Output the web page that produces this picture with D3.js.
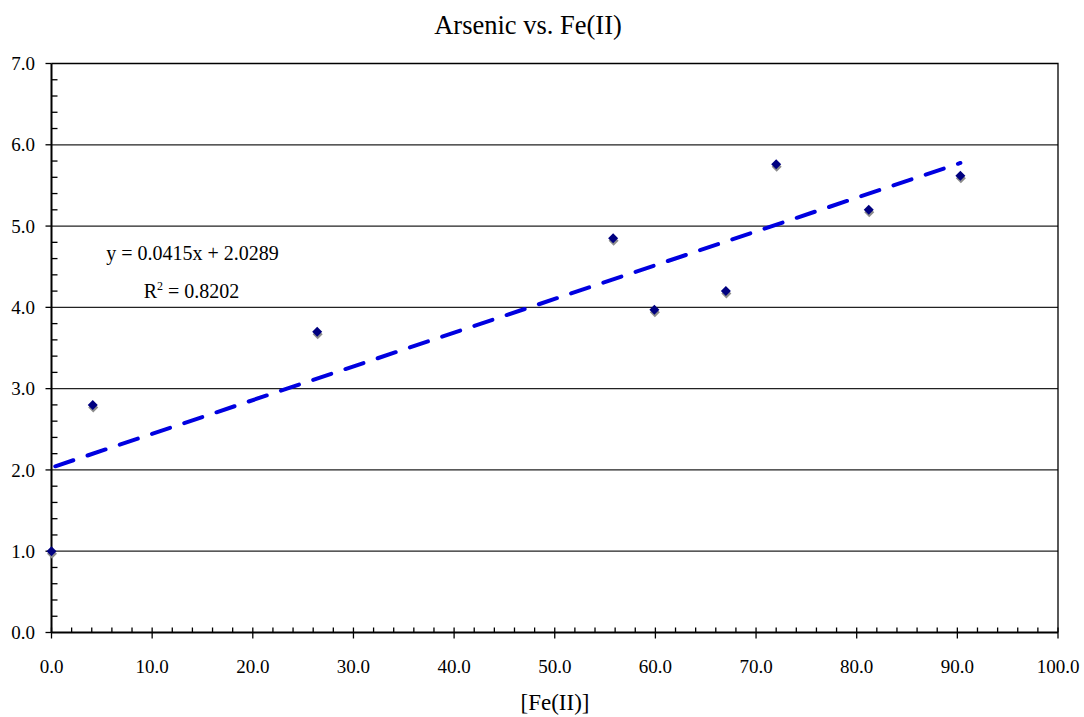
<!DOCTYPE html>
<html><head><meta charset="utf-8">
<script src="https://cdn.jsdelivr.net/npm/d3@7"></script>
<style>body{margin:0;background:#fff}svg{display:block}text{font-family:"Liberation Serif","Times New Roman",serif;fill:#000}</style>
</head><body>
<svg id="c" width="1084" height="717"></svg>
<script>
const feII = [0, 4.1, 26.4, 55.8, 59.9, 67.0, 72.0, 81.2, 90.3];
const arsenic = [1.0, 2.8, 3.7, 4.85, 3.97, 4.2, 5.76, 5.2, 5.62];
const xTicks = [0,10,20,30,40,50,60,70,80,90,100];
const yTicks = [0,1,2,3,4,5,6,7];
const slope = 0.0415, intercept = 2.0289, r2 = "0.8202";
const title = "Arsenic vs. Fe(II)", xTitle = "[Fe(II)]";

const svg = d3.select("#c");
const L=51.5, R=1058, T=63.5, B=632.5;
const x = d3.scaleLinear().domain([0,100]).range([L,R]);
const y = d3.scaleLinear().domain([0,7]).range([B,T]);

// gridlines
svg.append("g").selectAll("line").data(yTicks.filter(d=>d>0&&d<7)).join("line")
  .attr("x1",L).attr("x2",R).attr("y1",d=>y(d)).attr("y2",d=>y(d))
  .attr("stroke","#222").attr("stroke-width",1.2);
// border
svg.append("path").attr("d",`M${L},${T}H${R}V${B}`).attr("fill","none").attr("stroke","#000").attr("stroke-width",1.3);

// y axis
const yMinor = d3.range(0,7.001,0.2).map(v=>+v.toFixed(1));
const ya = svg.append("g");
ya.append("line").attr("x1",L).attr("x2",L).attr("y1",T).attr("y2",B).attr("stroke","#000").attr("stroke-width",2);
ya.selectAll(".mi").data(yMinor.filter(v=>Math.abs(v-Math.round(v))>1e-6)).join("line")
  .attr("x1",L).attr("x2",L+6).attr("y1",d=>y(d)).attr("y2",d=>y(d)).attr("stroke","#000").attr("stroke-width",1.3);
ya.selectAll(".ma").data(yTicks).join("line")
  .attr("x1",L-6).attr("x2",L).attr("y1",d=>y(d)).attr("y2",d=>y(d)).attr("stroke","#000").attr("stroke-width",1.3);
ya.selectAll("text").data(yTicks).join("text")
  .attr("x",35).attr("y",d=>y(d)).attr("dy","0.35em").attr("text-anchor","end")
  .attr("font-size",19).text(d=>d3.format(".1f")(d));

// x axis
const xMinor = d3.range(0,100.001,2);
const xa = svg.append("g");
xa.append("line").attr("x1",L).attr("x2",R).attr("y1",B).attr("y2",B).attr("stroke","#000").attr("stroke-width",2);
xa.selectAll(".mi").data(xMinor.filter(v=>v%10!==0)).join("line")
  .attr("x1",d=>x(d)).attr("x2",d=>x(d)).attr("y1",B-5).attr("y2",B).attr("stroke","#000").attr("stroke-width",1.3);
xa.selectAll(".ma").data(xTicks).join("line")
  .attr("x1",d=>x(d)).attr("x2",d=>x(d)).attr("y1",B-5).attr("y2",B+6).attr("stroke","#000").attr("stroke-width",1.3);
xa.selectAll("text").data(xTicks).join("text")
  .attr("x",d=>x(d)).attr("y",666).attr("dy","0.35em").attr("text-anchor","middle")
  .attr("font-size",19).text(d=>d3.format(".1f")(d));

// trendline
const xs=[0, d3.max(feII)];
svg.append("line").attr("x1",x(xs[0])).attr("y1",y(intercept+slope*xs[0]))
  .attr("x2",x(xs[1])).attr("y2",y(intercept+slope*xs[1]))
  .attr("stroke","#0000e0").attr("stroke-width",4).attr("stroke-dasharray","19,15").attr("stroke-linecap","round")
  .attr("stroke-dashoffset",-4);

// markers
const pts = feII.map((v,i)=>[v,arsenic[i]]);
const sym = d3.symbol().type(d3.symbolSquare).size(50);
svg.append("g").selectAll("path").data(pts).join("path")
  .attr("d",sym).attr("transform",d=>`translate(${x(d[0])+0.5},${y(d[1])+2.5}) rotate(45)`).attr("fill","#8c8c8c");
svg.append("g").selectAll("path").data(pts).join("path")
  .attr("d",sym).attr("transform",d=>`translate(${x(d[0])},${y(d[1])}) rotate(45)`).attr("fill","#000080");

// equation
svg.append("text").attr("x",192.5).attr("y",253).attr("dy","0.35em").attr("text-anchor","middle").attr("font-size",20)
  .text(`y = ${slope}x + ${intercept}`);
const rt = svg.append("text").attr("x",191.5).attr("y",291).attr("dy","0.35em").attr("text-anchor","middle").attr("font-size",20);
rt.append("tspan").text("R");
rt.append("tspan").attr("font-size",12).attr("dy","-8").text("2");
rt.append("tspan").attr("dy","8").text(` = ${r2}`);

// titles
svg.append("text").attr("x",528).attr("y",25).attr("dy","0.35em").attr("text-anchor","middle").attr("font-size",26.5).text(title);
svg.append("text").attr("x",555).attr("y",702).attr("dy","0.35em").attr("text-anchor","middle").attr("font-size",23).text(xTitle);
</script>
</body></html>
